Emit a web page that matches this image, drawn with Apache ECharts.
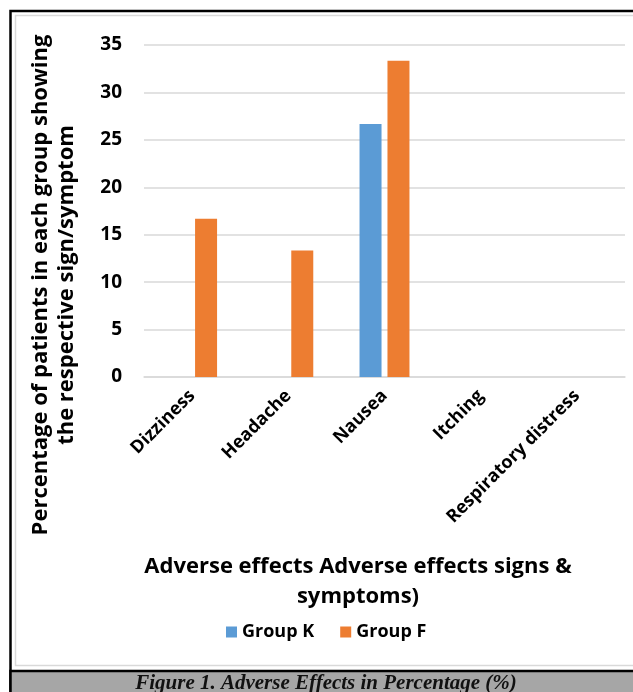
<!DOCTYPE html>
<html><head><meta charset="utf-8">
<script src="https://cdn.jsdelivr.net/npm/echarts@6/dist/echarts.min.js"></script>
<style>html,body{margin:0;padding:0;background:#fff}#c{width:633px;height:692px}</style>
</head><body><div id="c"></div>
<script>
const categories = ['Dizziness', 'Headache', 'Nausea', 'Itching', 'Respiratory distress'];
const groupK = [0, 0, 26.67, 0, 0];
const groupF = [16.67, 13.33, 33.33, 0, 0];
const yTicks = [0, 5, 10, 15, 20, 25, 30, 35];
const seriesNames = ['Group K', 'Group F'];

const chart = echarts.init(document.getElementById('c'));
const font = '"Open Sans", "Liberation Sans", sans-serif';
chart.setOption({
  animation: false,
  textStyle: { fontFamily: font },
  graphic: [
    { type: 'rect', shape: { x: 10.5, y: 11, width: 640, height: 690 }, style: { fill: 'none', stroke: '#000', lineWidth: 2.5 }, z: 0 },
    { type: 'rect', shape: { x: 15.5, y: 15.5, width: 630, height: 650 }, style: { fill: 'none', stroke: '#d9d9d9', lineWidth: 1.5 }, z: 0 },
    { type: 'rect', shape: { x: 10.5, y: 671, width: 640, height: 30 }, style: { fill: '#a6a6a6', stroke: '#000', lineWidth: 2.5 }, z: 0 },
    { type: 'text', x: 326, y: 684, style: { text: 'Figure 1. Adverse Effects in Percentage (%)', font: 'italic bold 21px "Liberation Serif", "DejaVu Serif", serif', fill: '#111', textAlign: 'center', textVerticalAlign: 'middle' }, z: 5 },
    { type: 'text', x: 54, y: 285, rotation: Math.PI / 2, style: { text: 'Percentage of patients in each group showing\nthe respective sign/symptom', font: 'bold 22px ' + font, fill: '#000', textAlign: 'center', textVerticalAlign: 'middle', lineHeight: 26 }, z: 5 },
    { type: 'text', x: 358, y: 582, style: { text: 'Adverse effects Adverse effects signs &\nsymptoms)', font: 'bold 22px ' + font, fill: '#000', textAlign: 'center', textVerticalAlign: 'middle', lineHeight: 30 }, z: 5 }
  ],
  legend: {
    data: seriesNames, left: 221, top: 618, itemWidth: 11, itemHeight: 11, itemGap: 26,
    textStyle: { fontSize: 18, fontWeight: 'bold', color: '#000', fontFamily: font },
    icon: 'rect'
  },
  grid: { left: 144, right: 8, top: 45, bottom: 315, containLabel: false },
  xAxis: {
    type: 'category', data: categories,
    axisLine: { lineStyle: { color: '#d9d9d9', width: 1.5 } },
    axisTick: { show: false },
    axisLabel: { rotate: 45, interval: 0, margin: 16, fontSize: 18, fontWeight: 'bold', color: '#000', fontFamily: font }
  },
  yAxis: {
    type: 'value', min: 0, max: 35, interval: 5,
    axisLine: { show: false }, axisTick: { show: false },
    splitLine: { lineStyle: { color: '#d9d9d9', width: 1.5 } },
    axisLabel: { margin: 22, fontSize: 19, fontWeight: 'bold', color: '#000', fontFamily: font,
      formatter: v => yTicks.includes(v) ? String(v) : '' }
  },
  series: [
    { name: seriesNames[0], type: 'bar', data: groupK, barWidth: 22, barGap: '27%', itemStyle: { color: '#5b9bd5' } },
    { name: seriesNames[1], type: 'bar', data: groupF, barWidth: 22, barGap: '27%', itemStyle: { color: '#ed7d31' } }
  ]
});
</script></body></html>
